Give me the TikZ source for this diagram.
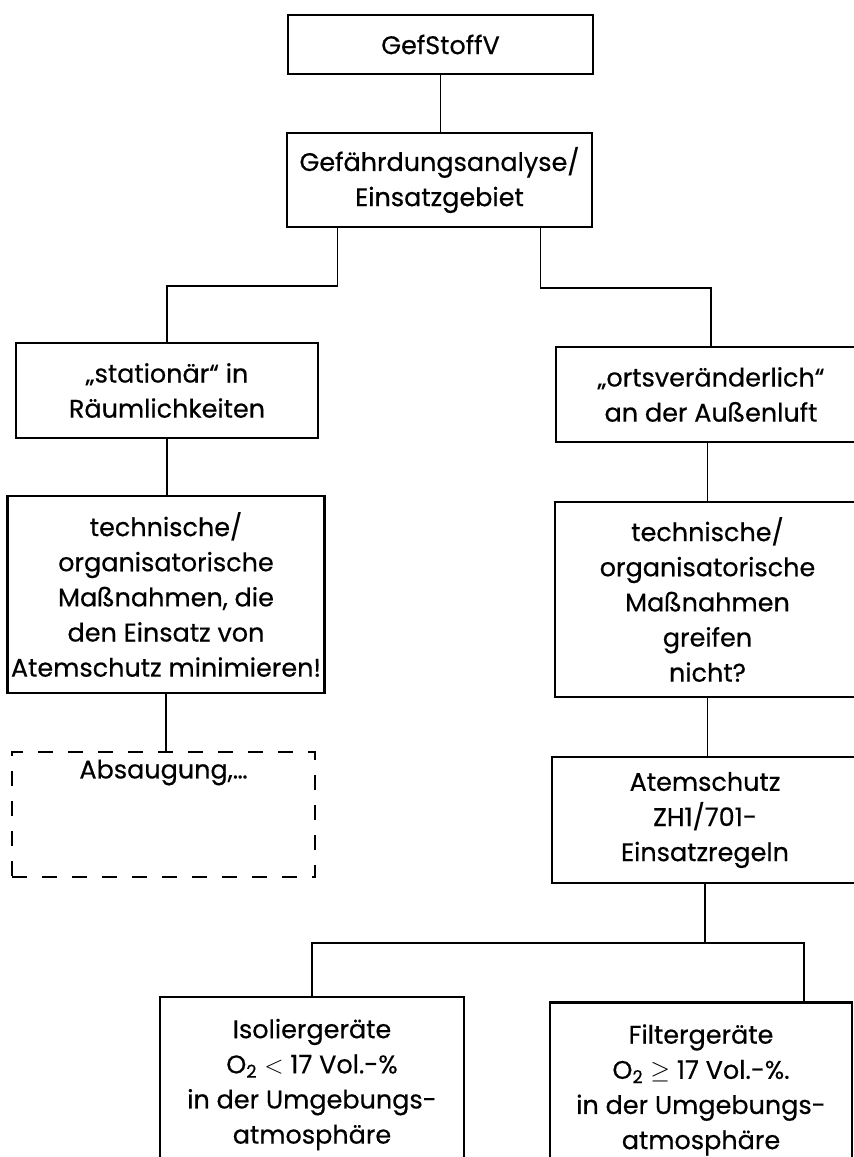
\documentclass[tikz,border=0pt]{standalone}
\usepackage{fontspec}
\setmainfont{Poppins}[UprightFeatures={FakeBold=0.5}]
\usetikzlibrary{positioning}
\begin{document}
\begin{tikzpicture}[x=0.02cm,y=-0.02cm,
    kasten/.style={draw,line width=1.3pt,align=center,inner sep=2pt,
      font=\fontsize{14.5}{20}\selectfont},
    offen/.style={kasten,dash pattern=on 0.3cm off 0.3cm},
    strich/.style={line width=0.9pt}]
  \useasboundingbox (0,0) rectangle (854,1157);
  \clip (0,0) rectangle (854,1157);
  \node[kasten,minimum width=6.1cm,minimum height=1.18cm] (gef) at (440.5,44.5) {GefStoffV};
  \node[kasten,minimum width=6.1cm,minimum height=1.88cm] (analyse) at (439.5,180) {Gefährdungsanalyse/\\Einsatzgebiet};
  \node[kasten,minimum width=6.04cm,minimum height=1.9cm] (stat) at (167,390.5) {„stationär“ in\\Räumlichkeiten};
  \node[kasten,minimum width=6.2cm,minimum height=1.9cm] (orts) at (711,394.5) {„ortsveränderlich“\\an der Außenluft};
  \node[kasten,minimum width=6.08cm,minimum height=3.94cm] (technL) at (166,594.5)
    {technische/\\organisatorische\\Maßnahmen, die\\den Einsatz von\\Atemschutz minimieren!};
  \node[kasten,minimum width=6.1cm,minimum height=3.9cm] (technR) at (707.5,599.5)
    {technische/\\organisatorische\\Maßnahmen\\greifen\\nicht?};
  \node[offen,minimum width=6.06cm,minimum height=2.5cm] (absaug) at (163.5,814.5) {};
  \node[below=0.05cm of absaug.north,font=\fontsize{14.5}{20}\selectfont] (absaugtxt) {Absaugung,\dots};
  \node[kasten,minimum width=6.12cm,minimum height=2.52cm] (atem) at (705,820) {Atemschutz\\ZH1/701-\\Einsatzregeln};
  \node[kasten,minimum width=6.08cm,minimum height=3.5cm] (iso) at (312,1084.5)
    {Isoliergeräte\\O\textsubscript{2} $<$ 17 Vol.-\%\\in der Umgebungs-\\atmosphäre};
  \node[kasten,minimum width=6.04cm,minimum height=3.5cm] (filt) at (701,1090)
    {Filtergeräte\\O\textsubscript{2} $\geq$ 17 Vol.-\%.\\in der Umgebungs-\\atmosphäre};
  \draw[strich] (gef.south) -- (gef.south |- analyse.north);
  \draw[strich] ([xshift=-2.04cm]analyse.south) -- ++(0,58) -| (stat.north);
  \draw[strich] ([xshift=2.02cm]analyse.south) -- ++(0,60) -| (orts.north);
  \draw[strich] (stat.south) -- (stat.south |- technL.north);
  \draw[strich] (technR.north |- orts.south) -- (technR.north);
  \draw[strich] (technL.south) -- (technL.south |- absaug.north);
  \draw[strich] (technR.south) -- (technR.south |- atem.north);
  \draw[strich] (atem.south) -- ++(0,59) coordinate (gabel);
  \draw[strich] (iso.north) |- (gabel) -| ([xshift=2.06cm]filt.north);
\end{tikzpicture}
\end{document}
